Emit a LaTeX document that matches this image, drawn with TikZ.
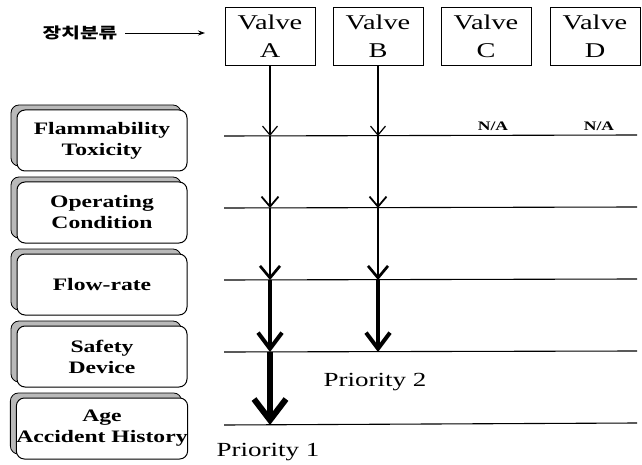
\documentclass[tikz,border=0pt]{standalone}
\usepackage{fontspec}
\setmainfont{Liberation Serif}[FakeStretch=1.35]
\newfontfamily\korfont{Noto Sans CJK KR}[FakeStretch=1.35]
\usepackage{tikz}
\usetikzlibrary{arrows.meta, shadows}
\tikzset{
  valvebox/.style={draw, line width=0.9pt, minimum width=90pt, minimum height=58pt, inner sep=0pt,
    align=center, font=\fontsize{21}{28}\selectfont},
  factorbox/.style={draw, line width=1pt, rounded corners=8pt, fill=white, minimum width=170pt,
    minimum height=61pt, inner sep=0pt, align=center, font=\bfseries\fontsize{17.5}{21}\selectfont,
    general shadow={draw, line width=0.8pt, fill=gray!55, shadow xshift=-6pt, shadow yshift=5pt}},
  level/.style={line width=1.1pt},
  flow/.style n args={3}{line width=#1, -{Straight Barb[length=#2, width=#3]}}
}

\begin{document}
\begin{tikzpicture}[x=1pt, y=-1pt]
  \useasboundingbox (0, 0) rectangle (642, 465);

  % device classification
  \node[font=\korfont\bfseries\fontsize{15}{17}\selectfont, inner sep=2pt, outer sep=6pt] (kor) at (80, 33) {장치분류};
  \node[valvebox] (vA) at (270, 36) {Valve\\A};
  \node[valvebox] (vB) at (378, 36) {Valve\\B};
  \node[valvebox] (vC) at (486, 36) {Valve\\C};
  \node[valvebox] (vD) at (595, 36) {Valve\\D};
  \coordinate (kend) at (205, 33);
  \draw[line width=0.9pt, -{Stealth[length=7pt, width=5pt]}] (kor.east) -- (kend);

  % criteria
  \node[factorbox] (f1) at (102, 140.5) {Flammability\\Toxicity};
  \node[factorbox] (f2) at (102, 212.5) {Operating\\Condition};
  \node[factorbox] (f3) at (102, 284.5) {Flow-rate};
  \node[factorbox] (f4) at (102, 356.5) {Safety\\Device};
  \node[factorbox] (f5) at (102, 428.5) {Age\\Accident History};

  % levels
  \draw[level] (224, 136) -- (637, 135);
  \draw[level] (224, 208) -- (637, 207);
  \draw[level] (224, 280) -- (637, 279);
  \draw[level] (224, 352) -- (637, 351);
  \draw[level] (224, 425) -- (637, 423);

  \node[font=\bfseries\fontsize{13}{15}\selectfont] (naC) at (493, 126) {N/A};
  \node[font=\bfseries\fontsize{13}{15}\selectfont] (naD) at (599, 126) {N/A};

  \coordinate (a1) at (270, 136);
  \coordinate (a2) at (270, 208);
  \coordinate (a3) at (270, 280);
  \coordinate (a4) at (270, 352);
  \coordinate (a5) at (270, 425);
  \coordinate (b1) at (378, 136);
  \coordinate (b2) at (378, 208);
  \coordinate (b3) at (378, 280);
  \coordinate (b4) at (378, 352);

  \draw[flow={1.2pt}{9pt}{15pt}] (vA.south) -- (a1);
  \draw[flow={1.8pt}{10pt}{17pt}] (a1) -- (a2);
  \draw[flow={2.7pt}{12pt}{20pt}] (a2) -- (a3);
  \draw[flow={4pt}{16pt}{24pt}] (a3) -- (a4);
  \draw[flow={6pt}{21pt}{32pt}] (a4) -- (a5);

  \draw[flow={1.2pt}{9pt}{15pt}] (vB.south) -- (b1);
  \draw[flow={1.8pt}{10pt}{17pt}] (b1) -- (b2);
  \draw[flow={2.7pt}{12pt}{20pt}] (b2) -- (b3);
  \draw[flow={4pt}{16pt}{24pt}] (b3) -- (b4);

  \node[font=\fontsize{20}{24}\selectfont] (p2) at (375, 382) {Priority 2};
  \node[font=\fontsize{20}{24}\selectfont] (p1) at (268, 452) {Priority 1};

\end{tikzpicture}
\end{document}
